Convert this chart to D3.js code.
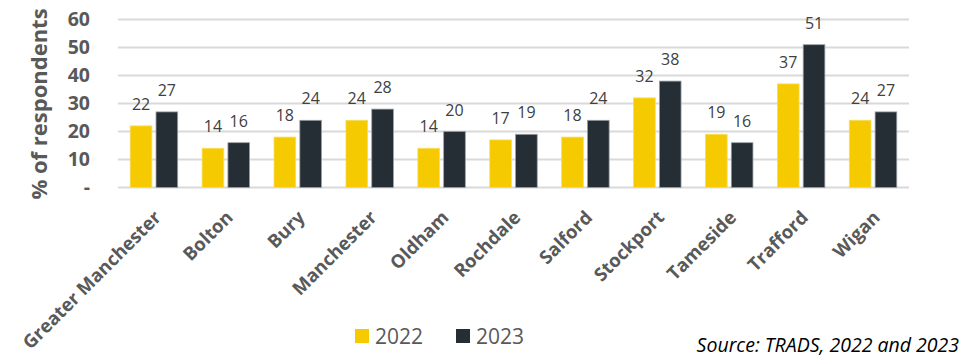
<!DOCTYPE html>
<html>
<head>
<meta charset="utf-8">
<script src="https://cdn.jsdelivr.net/npm/d3@7"></script>
<style>
  html, body { margin: 0; padding: 0; background: #fff; }
  svg { display: block; font-family: "Open Sans", sans-serif; }
</style>
</head>
<body>
<svg id="chart" width="964" height="358"></svg>
<script>
// Share of respondents by district, 2022 vs 2023
const categories = ["Greater Manchester", "Bolton", "Bury", "Manchester", "Oldham",
  "Rochdale", "Salford", "Stockport", "Tameside", "Trafford", "Wigan"];
const values2022 = [22, 14, 18, 24, 14, 17, 18, 32, 19, 37, 24];
const values2023 = [27, 16, 24, 28, 20, 19, 24, 38, 16, 51, 27];
const seriesNames = ["2022", "2023"];
const yTicks = [0, 10, 20, 30, 40, 50, 60];

const colors = { "2022": "#F5CA00", "2023": "#252D35" };

const svg = d3.select("#chart");
const margin = { left: 118, right: 55, top: 19.5, bottom: 170.5 };
const width = 964, height = 358;

const x = d3.scaleBand()
  .domain(categories)
  .range([margin.left, width - margin.right])
  .paddingInner(0.34)
  .paddingOuter(0.17);

const x1 = d3.scaleBand()
  .domain(seriesNames)
  .range([0, x.bandwidth()])
  .paddingInner(0.16);

const y = d3.scaleLinear()
  .domain([0, 60])
  .range([height - margin.bottom, margin.top]);

// gridlines
svg.append("g")
  .selectAll("line")
  .data(yTicks)
  .join("line")
  .attr("x1", margin.left)
  .attr("x2", width - margin.right)
  .attr("y1", d => y(d))
  .attr("y2", d => y(d))
  .attr("stroke", "#d9d9d9")
  .attr("stroke-width", 2);

// y axis labels
const yAxis = d3.axisLeft(y)
  .tickValues(yTicks)
  .tickFormat(d => d === 0 ? "-" : d)
  .tickSize(0)
  .tickPadding(0);
const gy = svg.append("g")
  .attr("transform", `translate(90,0)`)
  .call(yAxis);
gy.select(".domain").remove();
gy.selectAll("text")
  .attr("font-family", "Open Sans, sans-serif")
  .attr("font-size", 19.5)
  .attr("font-weight", "bold")
  .attr("fill", "#595959");

// y axis title
svg.append("text")
  .attr("transform", `translate(47,104) rotate(-90)`)
  .attr("text-anchor", "middle")
  .attr("font-size", 22)
  .attr("font-weight", "bold")
  .attr("fill", "#595959")
  .text("% of respondents");

// bars
const rows = categories.map((c, i) => ({
  cat: c,
  vals: [
    { key: "2022", value: values2022[i] },
    { key: "2023", value: values2023[i] }
  ]
}));

const groups = svg.append("g")
  .selectAll("g")
  .data(rows)
  .join("g")
  .attr("transform", d => `translate(${x(d.cat)},0)`);

groups.selectAll("rect")
  .data(d => d.vals)
  .join("rect")
  .attr("x", d => x1(d.key))
  .attr("width", x1.bandwidth())
  .attr("y", d => y(d.value))
  .attr("height", d => y(0) - y(d.value))
  .attr("fill", d => colors[d.key])
  .attr("stroke", d => d.key === "2023" ? "#9aa0a6" : "#f9dc55")
  .attr("stroke-width", 0.8);

groups.selectAll("text.val")
  .data(d => d.vals)
  .join("text")
  .attr("class", "val")
  .attr("x", d => x1(d.key) + x1.bandwidth() / 2)
  .attr("y", d => y(d.value) - 16)
  .attr("text-anchor", "middle")
  .attr("font-size", 16)
  .attr("fill", "#404040")
  .text(d => d.value);

// x axis labels
svg.append("g")
  .selectAll("text")
  .data(categories)
  .join("text")
  .attr("transform", d => `translate(${x(d) + x.bandwidth() / 2 - 1},${y(0) + 22}) rotate(-45)`)
  .attr("text-anchor", "end")
  .attr("dy", "0.7em")
  .attr("font-size", 18.5)
  .attr("font-weight", "bold")
  .attr("fill", "#595959")
  .text(d => d);

// legend
const legend = svg.append("g");
const legendX = [355, 456];
seriesNames.forEach((s, i) => {
  legend.append("rect")
    .attr("x", legendX[i])
    .attr("y", 329)
    .attr("width", 14)
    .attr("height", 14)
    .attr("fill", colors[s]);
  legend.append("text")
    .attr("x", legendX[i] + 20)
    .attr("y", 343.5)
    .attr("font-size", 21)
    .attr("fill", "#595959")
    .text(s);
});

// source note
svg.append("text")
  .attr("x", 959)
  .attr("y", 352)
  .attr("text-anchor", "end")
  .attr("font-size", 19.5)
  .attr("font-style", "italic")
  .attr("fill", "#000")
  .text("Source: TRADS, 2022 and 2023");
</script>
</body>
</html>
